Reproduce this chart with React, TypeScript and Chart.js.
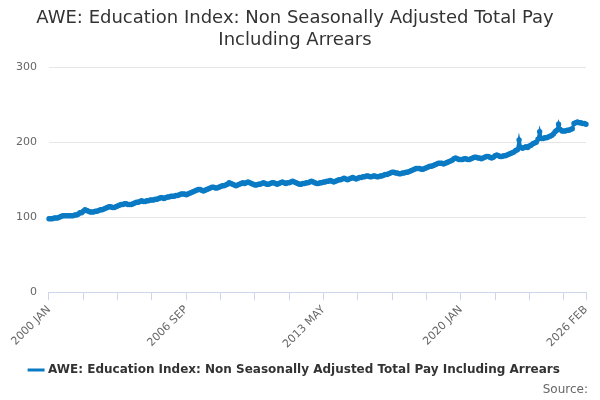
import React, { useEffect, useRef } from "react";
import { Chart, registerables } from "chart.js";
Chart.register(...registerables);

const years = Array.from({ length: 27 }, (_, i) => String(2000 + i));
const months = ["JAN","FEB","MAR","APR","MAY","JUN","JUL","AUG","SEP","OCT","NOV","DEC"];
const values: number[] = [
  98,98,98,99,99,99,100,101,102,102,102,102,
  102,102,102,103,103,104,106,106,108,110,109,108,
  107,107,107,108,108,109,110,110,111,112,113,114,
  114,113,113,114,115,116,117,117,118,118,117,117,
  117,118,119,120,120,121,122,121,121,122,122,123,
  123,123,124,124,125,126,126,125,126,127,127,128,
  128,128,129,129,130,131,131,131,130,131,132,133,
  134,135,136,137,137,136,135,136,137,138,139,140,
  140,139,139,140,141,142,142,143,144,146,145,144,
  143,142,143,144,145,146,145,146,147,146,145,144,
  143,143,144,144,145,146,145,144,144,145,146,146,
  145,144,145,146,147,146,145,146,146,147,148,147,
  146,145,144,144,145,145,146,146,147,148,147,146,
  145,145,146,146,147,147,148,148,149,148,147,148,
  149,150,150,151,152,151,150,151,152,153,152,151,
  152,153,153,154,154,155,155,154,154,155,155,154,
  154,155,155,156,157,157,158,159,160,160,159,159,
  158,158,159,159,160,160,161,162,163,164,165,165,
  165,164,164,165,166,167,168,168,169,170,171,172,
  172,172,171,172,173,174,175,176,178,179,178,177,
  177,177,178,178,177,177,178,179,180,180,179,179,
  178,179,180,181,181,180,179,180,182,183,182,181,
  181,182,182,183,184,185,186,187,189,190,203,193,
  192,193,194,193,195,196,198,199,200,204,214,205,
  205,206,206,207,208,209,211,214,216,224,217,215,
  215,215,216,216,217,218,225,226,227,226,226,225,
  225,224,
];
const labels = values.map((_, i) => `${years[Math.floor(i / 12)]} ${months[i % 12]}`);
const yTicks = [0, 100, 200, 300];
const seriesName = "AWE: Education Index: Non Seasonally Adjusted Total Pay Including Arrears";
const title = ["AWE: Education Index: Non Seasonally Adjusted Total Pay", "Including Arrears"];

export default function App() {
  const ref = useRef<HTMLCanvasElement>(null);
  useEffect(() => {
    const last = values.length - 1;
    const chart = new Chart(ref.current!, {
      type: "line",
      data: {
        labels,
        datasets: [{
          label: seriesName,
          data: values,
          borderColor: "#0a7ac4",
          backgroundColor: "#0a7ac4",
          borderWidth: 3,
          pointRadius: 1.2,
          pointHoverRadius: 3,
          tension: 0,
        }],
      },
      options: {
        animation: false,
        responsive: false,
        layout: { padding: { left: 4, right: 14, top: 0, bottom: 14 } },
        plugins: {
          title: {
            display: true, text: title, color: "#333",
            font: { family: "DejaVu Sans", size: 18, weight: "normal" },
            padding: { top: 8, bottom: 16 },
          },
          legend: {
            position: "bottom",
            labels: {
              color: "#333", font: { family: "DejaVu Sans", size: 12, weight: "bold" },
              usePointStyle: true, pointStyle: "line", boxWidth: 18,
            },
          },
          tooltip: { enabled: false },
        },
        scales: {
          x: {
            ticks: {
              autoSkip: false, maxRotation: 45, minRotation: 45,
              color: "#666", font: { family: "DejaVu Sans", size: 11 },
              callback: (_v: any, i: number) => {
                if (i === last || i % 80 === 0) return labels[i];
                if (i % 20 === 0) return "";
                return null;
              },
            },
            grid: { drawOnChartArea: false, drawTicks: true, tickLength: 8, color: "#ccd6eb" },
            border: { color: "#ccd6eb" },
          },
          y: {
            min: 0, max: 300,
            afterBuildTicks: (s: any) => { s.ticks = yTicks.map((v) => ({ value: v })); },
            ticks: { color: "#666", font: { family: "DejaVu Sans", size: 11 }, padding: 12 },
            grid: { color: "#e6e6e6", drawTicks: false },
            border: { display: false },
          },
        },
      },
    } as any);
    return () => chart.destroy();
  }, []);
  return (
    <div style={{ position: "fixed", left: 0, top: 0, width: 600, height: 400, background: "#fff" }}>
      <canvas ref={ref} width={600} height={400} />
      <div style={{ position: "absolute", right: 12, bottom: 4, fontFamily: "DejaVu Sans", fontSize: 12, color: "#666" }}>Source:</div>
    </div>
  );
}
